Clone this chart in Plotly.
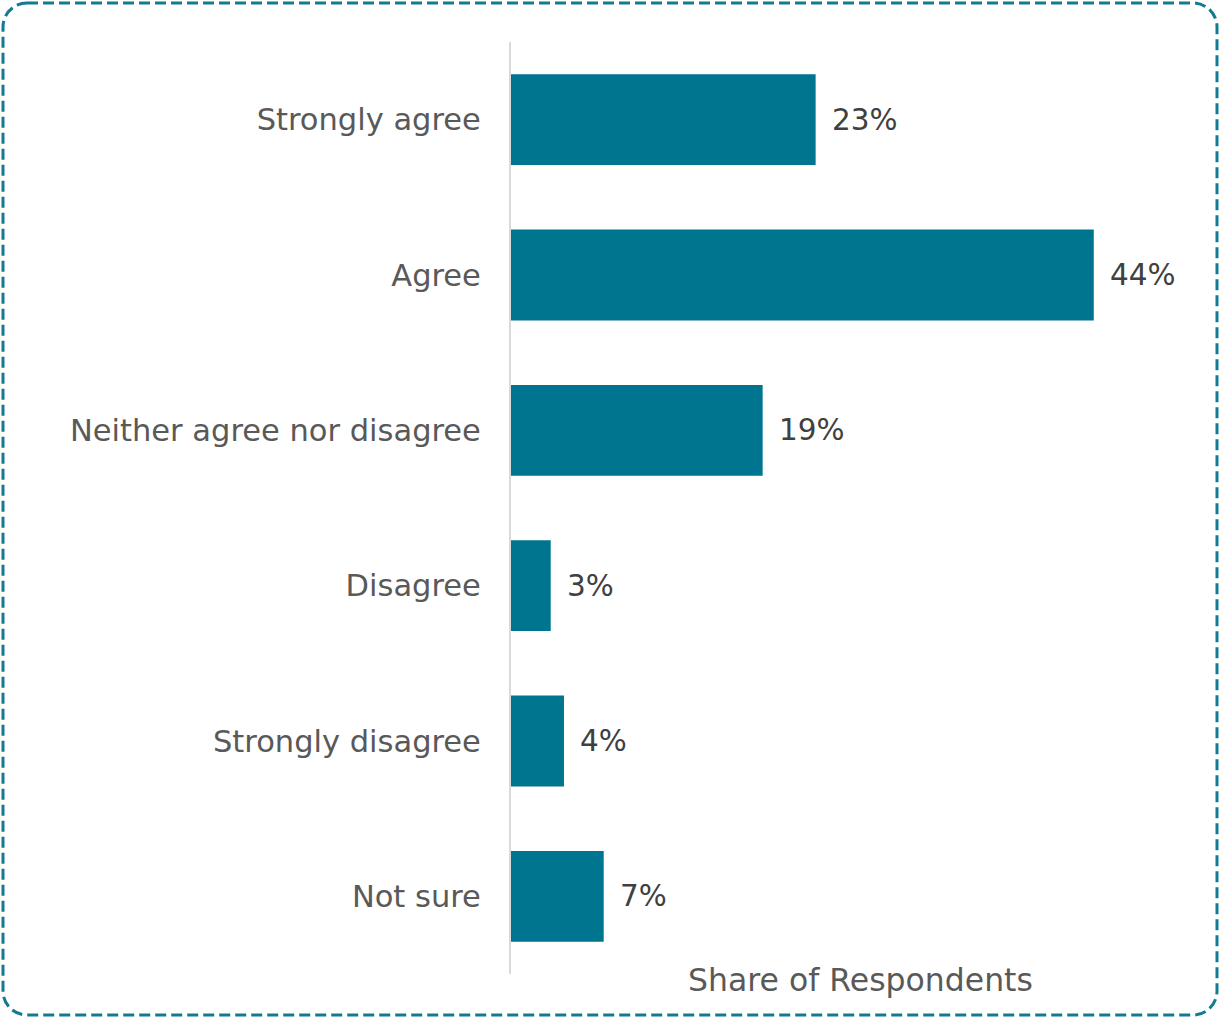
import plotly.graph_objects as go

# Survey responses
categories = ["Strongly agree", "Agree", "Neither agree nor disagree",
              "Disagree", "Strongly disagree", "Not sure"]
shares = [23, 44, 19, 3, 4, 7]
value_labels = ["23%", "44%", "19%", "3%", "4%", "7%"]

W, H = 1221, 1018
ML, MR, MT, MB = 511, 12, 42, 44
PW, PH = W - ML - MR, H - MT - MB

BAR = "#00758F"
FONT = "DejaVu Sans, Open Sans, sans-serif"
FS = 30.5


def px(x):
    return (x - ML) / PW


def py(y):
    return (H - MB - y) / PH


def rounded_rect(x0, y0, x1, y1, r):
    k = 0.5523 * r
    pts = [
        f"M {px(x0 + r)},{py(y0)}",
        f"L {px(x1 - r)},{py(y0)}",
        f"C {px(x1 - r + k)},{py(y0)} {px(x1)},{py(y0 + r - k)} {px(x1)},{py(y0 + r)}",
        f"L {px(x1)},{py(y1 - r)}",
        f"C {px(x1)},{py(y1 - r + k)} {px(x1 - r + k)},{py(y1)} {px(x1 - r)},{py(y1)}",
        f"L {px(x0 + r)},{py(y1)}",
        f"C {px(x0 + r - k)},{py(y1)} {px(x0)},{py(y1 - r + k)} {px(x0)},{py(y1 - r)}",
        f"L {px(x0)},{py(y0 + r)}",
        f"C {px(x0)},{py(y0 + r - k)} {px(x0 + r - k)},{py(y0)} {px(x0 + r)},{py(y0)}",
        "Z",
    ]
    return " ".join(pts)


fig = go.Figure(
    go.Bar(
        x=shares,
        y=categories,
        orientation="h",
        marker=dict(color=BAR, line=dict(width=0)),
        hoverinfo="skip",
    )
)

for cat, val, lab in zip(categories, shares, value_labels):
    fig.add_annotation(
        x=val, y=cat, xref="x", yref="y", text=lab, showarrow=False,
        xanchor="left", yanchor="middle", xshift=14,
        font=dict(family=FONT, size=FS - 1, color="#404040"),
    )

fig.add_annotation(
    x=0.5, y=0, xref="paper", yref="paper", text="Share of Respondents",
    showarrow=False, xanchor="center", yanchor="middle", yshift=-6,
    font=dict(family=FONT, size=31.5, color="#595959"),
)

fig.add_shape(
    type="path", xref="paper", yref="paper",
    path=rounded_rect(3, 3, 1217, 1015, 24),
    line=dict(color="#137A92", width=3, dash="11px,5px"),
    fillcolor="rgba(0,0,0,0)", layer="above",
)

fig.update_layout(
    width=W, height=H,
    margin=dict(l=ML, r=MR, t=MT, b=MB, pad=0),
    paper_bgcolor="white", plot_bgcolor="white",
    bargap=0.415,
    showlegend=False,
    xaxis=dict(range=[0, 52.7], visible=False, fixedrange=True),
    yaxis=dict(
        categoryorder="array", categoryarray=categories,
        range=[5.5, -0.5],
        showline=True, linecolor="#D9D9D9", linewidth=2,
        showgrid=False, zeroline=False,
        ticks="", ticklabelstandoff=22,
        tickfont=dict(family=FONT, size=FS, color="#595959"),
        fixedrange=True,
    ),
)

fig.write_html("out.html")
